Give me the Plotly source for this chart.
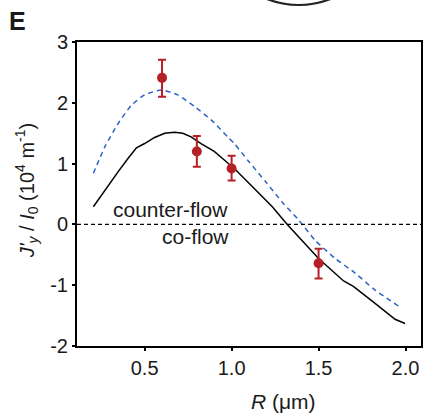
import plotly.graph_objects as go

# Measured data points (R in um, J'y/I0 in 1e4 m^-1)
pts_x = [0.60, 0.80, 1.00, 1.50]
pts_y = [2.41, 1.20, 0.92, -0.64]
err_plus = [0.30, 0.255, 0.21, 0.24]
err_minus = [0.31, 0.25, 0.20, 0.25]

# Black solid curve
black_x = [0.205, 0.272, 0.348, 0.405, 0.453, 0.50, 0.557, 0.615, 0.672, 0.719, 0.767,
           0.824, 0.90, 0.958, 1.024, 1.12, 1.234, 1.32, 1.405, 1.50, 1.644, 1.70,
           1.825, 1.94, 1.997]
black_y = [0.29, 0.566, 0.867, 1.087, 1.26, 1.33, 1.43, 1.50, 1.515, 1.50, 1.44,
           1.33, 1.20, 1.06, 0.895, 0.62, 0.29, 0.0, -0.26, -0.56, -0.93, -1.02,
           -1.30, -1.56, -1.63]

# Blue dashed curve
blue_x = [0.205, 0.272, 0.348, 0.424, 0.50, 0.596, 0.69, 0.786, 0.882, 0.977, 1.015,
          1.10, 1.196, 1.29, 1.386, 1.48, 1.596, 1.71, 1.825, 1.958]
blue_y = [0.84, 1.28, 1.66, 1.96, 2.13, 2.21, 2.13, 1.94, 1.72, 1.44, 1.33,
          1.03, 0.70, 0.37, 0.07, -0.26, -0.56, -0.80, -1.08, -1.34]

x_tickvals = [0.5, 1.0, 1.5, 2.0]
x_ticktext = ["0.5", "1.0", "1.5", "2.0"]
y_tickvals = [-2, -1, 0, 1, 2, 3]
y_ticktext = ["-2", "-1", "0", "1", "2", "3"]

FONT = "Liberation Sans, Arial, sans-serif"
TXT = "#1a1a1a"
RED = "#b51f26"

fig = go.Figure()
fig.add_trace(go.Scatter(x=blue_x, y=blue_y, mode="lines",
                         line=dict(color="#2b62c2", width=1.5, dash="5px,4px", shape="spline", smoothing=0.6),
                         hoverinfo="skip"))
fig.add_trace(go.Scatter(x=black_x, y=black_y, mode="lines",
                         line=dict(color="black", width=1.5),
                         hoverinfo="skip"))
fig.add_trace(go.Scatter(x=pts_x, y=pts_y, mode="markers",
                         marker=dict(color=RED, size=10),
                         error_y=dict(type="data", symmetric=False, array=err_plus,
                                      arrayminus=err_minus, color=RED, thickness=2, width=4)))

# zero line
fig.add_shape(type="line", xref="paper", yref="y", x0=0, x1=1, y0=0, y1=0,
              line=dict(color="black", width=1.3, dash="4px,3px"))

# arc remnant at top (paper coords)
def px2paper(px, py):
    return (px - 77) / 346, (346 - py) / 304

ax0, ay0 = px2paper(263, -3)
acx, acy = px2paper(300, 13)
ax1, ay1 = px2paper(337, -3)
fig.add_shape(type="path", xref="paper", yref="paper",
              path=f"M {ax0},{ay0} Q {acx},{acy} {ax1},{ay1}",
              line=dict(color="#222", width=2.2))

fig.add_annotation(x=0.649, y=0.253, xref="x", yref="y", text="counter-flow",
                   xanchor="center", yanchor="middle",
                   showarrow=False, font=dict(family=FONT, size=21, color=TXT))
fig.add_annotation(x=0.792, y=-0.207, xref="x", yref="y", text="co-flow",
                   xanchor="center", yanchor="middle",
                   showarrow=False, font=dict(family=FONT, size=21, color=TXT))

tx, ty = px2paper(26, 191)
fig.add_annotation(x=tx, y=ty, xref="paper", yref="paper", textangle=-90,
                   xanchor="center", yanchor="middle",
                   text="<i>J'</i><sub><i>y</i></sub> / <i>I</i><sub>0</sub> (10<sup>4</sup> m<sup>-1</sup>)",
                   showarrow=False, font=dict(family=FONT, size=20, color=TXT))
rx, ry = px2paper(285, 401)
fig.add_annotation(x=rx, y=ry, xref="paper", yref="paper", text="<i>R</i> (μm)",
                   xanchor="center", yanchor="middle",
                   showarrow=False, font=dict(family=FONT, size=21, color=TXT))
ex, ey = px2paper(17, 21)
fig.add_annotation(x=ex, y=ey, xref="paper", yref="paper", text="<b>E</b>",
                   xanchor="center", yanchor="middle",
                   showarrow=False, font=dict(family=FONT, size=25, color=TXT))

fig.update_layout(
    width=424, height=415,
    margin=dict(l=77, r=1, t=42, b=69),
    paper_bgcolor="white", plot_bgcolor="white",
    showlegend=False,
    font=dict(family=FONT, size=20, color=TXT),
)
fig.update_xaxes(range=[0.111, 2.089], tickvals=x_tickvals, ticktext=x_ticktext,
                 showgrid=False, zeroline=False, showline=True, linecolor="black",
                 linewidth=2, mirror=True, ticks="outside", ticklen=3, tickwidth=2,
                 tickcolor="black", tickfont=dict(size=20))
fig.update_yaxes(range=[-2, 3], tickvals=y_tickvals, ticktext=y_ticktext,
                 showgrid=False, zeroline=False, showline=True, linecolor="black",
                 linewidth=2, mirror=True, ticks="outside", ticklen=3, tickwidth=2,
                 tickcolor="black", tickfont=dict(size=20))

fig.write_html("out.html")
